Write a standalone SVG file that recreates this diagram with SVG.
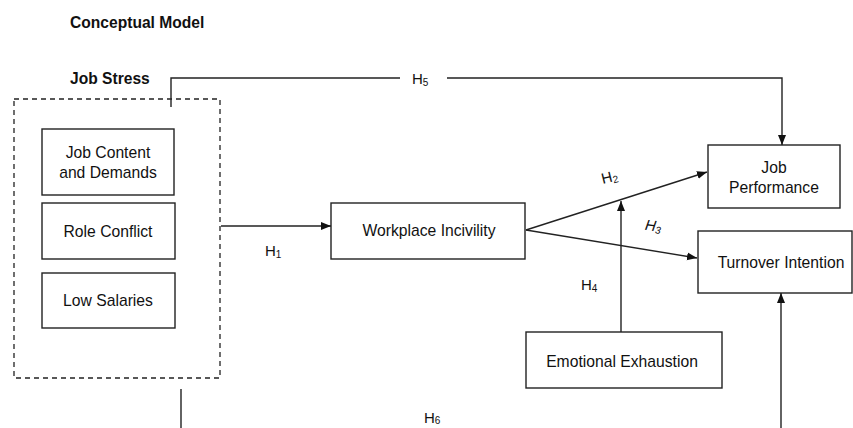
<svg xmlns="http://www.w3.org/2000/svg" width="853" height="428" viewBox="0 0 853 428">
<defs>
<marker id="arr" viewBox="0 0 10 10" refX="10" refY="5" markerWidth="10" markerHeight="10" markerUnits="userSpaceOnUse" orient="auto">
<path d="M0,1 L10,5 L0,9 z" fill="#111"/>
</marker>
<style>
.box{fill:#fff;stroke:#222;stroke-width:1.4}
.t{font-family:"Liberation Sans",Arial,sans-serif;font-size:15.7px;fill:#111;text-anchor:middle}
.b{font-family:"Liberation Sans",Arial,sans-serif;font-size:15.6px;font-weight:bold;fill:#111}
.h{font-family:"Liberation Sans",Arial,sans-serif;font-size:15px;fill:#111}
.s{font-size:10px}
.c{fill:none;stroke:#222;stroke-width:1.4}
</style>
</defs>
<rect width="853" height="428" fill="#fff"/>
<text class="b" x="70" y="28">Conceptual Model</text>
<text class="b" x="70" y="84">Job Stress</text>

<g id="job-stress">
<rect x="14" y="99" width="206" height="279" fill="none" stroke="#222" stroke-width="1.3" stroke-dasharray="5,4"/>
</g>
<g id="job-content">
<rect class="box" x="42" y="129" width="132" height="66"/>
<text class="t" x="108" y="158">Job Content</text>
<text class="t" x="108" y="178">and Demands</text>
</g>
<g id="role-conflict">
<rect class="box" x="42" y="203" width="133" height="56"/>
<text class="t" x="108" y="237">Role Conflict</text>
</g>
<g id="low-salaries">
<rect class="box" x="42" y="273" width="133" height="55"/>
<text class="t" x="108" y="306">Low Salaries</text>
</g>
<g id="workplace-incivility">
<rect class="box" x="331" y="203" width="194" height="56"/>
<text class="t" x="429" y="236">Workplace Incivility</text>
</g>
<g id="job-performance">
<rect class="box" x="708" y="145" width="132" height="63"/>
<text class="t" x="774" y="173">Job</text>
<text class="t" x="774" y="193">Performance</text>
</g>
<g id="turnover-intention">
<rect class="box" x="698" y="231" width="154" height="62"/>
<text class="t" x="781" y="268">Turnover Intention</text>
</g>
<g id="emotional-exhaustion">
<rect class="box" x="526" y="332" width="196" height="56"/>
<text class="t" x="622" y="367">Emotional Exhaustion</text>
</g>

<g id="connectors">
<polyline class="c" points="171,107 171,78 400,78"/>
<polyline class="c" points="447,78 782,78 782,145" marker-end="url(#arr)"/>
<line class="c" x1="221" y1="226" x2="331" y2="226" marker-end="url(#arr)"/>
<line class="c" x1="526" y1="230" x2="707" y2="172" marker-end="url(#arr)"/>
<line class="c" x1="526" y1="230" x2="697" y2="258" marker-end="url(#arr)"/>
<line class="c" x1="621" y1="332" x2="621" y2="201" marker-end="url(#arr)"/>
<line class="c" x1="781" y1="428" x2="781" y2="293" marker-end="url(#arr)"/>
<line class="c" x1="181" y1="389" x2="181" y2="428"/>
</g>

<g id="labels">
<text class="h" x="412" y="84">H<tspan class="s" dy="2">5</tspan></text>
<text class="h" x="265" y="256">H<tspan class="s" dy="2">1</tspan></text>
<text class="h" x="601" y="182" transform="rotate(-14 610 176)">H<tspan class="s" dy="2">2</tspan></text>
<text class="h" x="645" y="231" font-style="italic" transform="rotate(8 654 226)">H<tspan class="s" dy="2">3</tspan></text>
<text class="h" x="581" y="290">H<tspan class="s" dy="2">4</tspan></text>
<text class="h" x="424" y="423">H<tspan class="s" dy="1">6</tspan></text>
</g>
</svg>
